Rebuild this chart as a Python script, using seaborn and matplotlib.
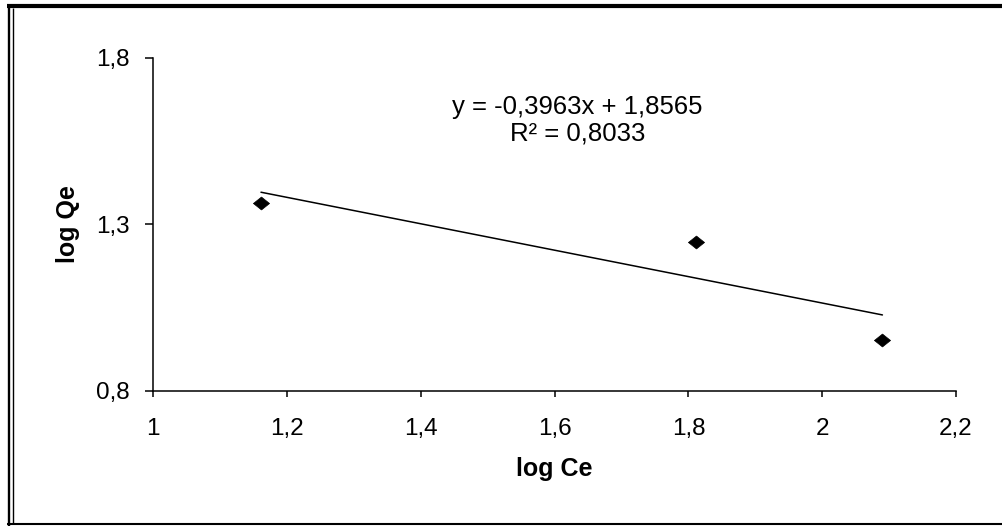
import matplotlib
matplotlib.use("Agg")
import matplotlib.pyplot as plt
from matplotlib.lines import Line2D
from matplotlib.ticker import FixedLocator, FixedFormatter
import numpy as np
import pandas as pd
import seaborn as sns

# Freundlich isotherm: log Qe against log Ce
log_ce = [1.161, 1.811, 2.090]
log_qe = [1.364, 1.246, 0.953]

# Linear trend line as reported on the chart
slope = -0.3963
intercept = 1.8565
r_squared = 0.8033

x_ticks = [1.0, 1.2, 1.4, 1.6, 1.8, 2.0, 2.2]
x_tick_labels = ["1", "1,2", "1,4", "1,6", "1,8", "2", "2,2"]
y_ticks = [0.8, 1.3, 1.8]
y_tick_labels = ["0,8", "1,3", "1,8"]

sns.set_theme(style="white")
plt.rcParams["font.family"] = ["Liberation Sans", "DejaVu Sans"]

W, H = 1003, 527
fig = plt.figure(figsize=(W / 100, H / 100), dpi=100)
fig.patch.set_facecolor("white")

left, right, top, bottom = 153.3, 956.0, 57.7, 391.0
ax = fig.add_axes([left / W, 1 - bottom / H, (right - left) / W, (bottom - top) / H])
ax.set_facecolor("white")

points = pd.DataFrame({"log Ce": log_ce, "log Qe": log_qe})
trend_x = np.array([min(log_ce), max(log_ce)])
trend = pd.DataFrame({"log Ce": trend_x, "log Qe": slope * trend_x + intercept})

sns.lineplot(data=trend, x="log Ce", y="log Qe", color="black", linewidth=1.1, ax=ax)

diamond = [(-1.0, 0.0), (0.0, 0.8), (1.0, 0.0), (0.0, -0.8), (-1.0, 0.0)]
sns.scatterplot(data=points, x="log Ce", y="log Qe", marker=diamond, s=135,
                color="black", edgecolor="black", linewidth=0.5, ax=ax, zorder=3)

ax.set_xlim(1.0, 2.2)
ax.set_ylim(0.8, 1.8)
ax.xaxis.set_major_locator(FixedLocator(x_ticks))
ax.xaxis.set_major_formatter(FixedFormatter(x_tick_labels))
ax.yaxis.set_major_locator(FixedLocator(y_ticks))
ax.yaxis.set_major_formatter(FixedFormatter(y_tick_labels))

for side in ("top", "right"):
    ax.spines[side].set_visible(False)
for side in ("left", "bottom"):
    ax.spines[side].set_color("black")
    ax.spines[side].set_linewidth(1.1)

ax.tick_params(axis="x", direction="out", length=4.3, width=1.1, color="black",
               labelsize=17.5, labelcolor="black", pad=15, bottom=True)
ax.tick_params(axis="y", direction="out", length=5.8, width=1.1, color="black",
               labelsize=17.5, labelcolor="black", pad=11, left=True)
ax.grid(False)

ax.set_xlabel("log Ce", fontsize=18, fontweight="bold", color="black")
ax.set_ylabel("log Qe", fontsize=18, fontweight="bold", color="black")
ax.xaxis.label.set_verticalalignment("center")
ax.yaxis.label.set_verticalalignment("center")
ax.xaxis.set_label_coords(0.5, (bottom - 469) / (bottom - top))
ax.yaxis.set_label_coords((67.5 - left) / (right - left), 0.5)

eq_x = (577.5 - left) / (right - left)
ax.text(eq_x, (bottom - 107) / (bottom - top),
        f"y = {slope:.4f}x + {intercept:.4f}".replace(".", ","),
        transform=ax.transAxes, ha="center", va="center", fontsize=18.5, color="black")
ax.text(eq_x, (bottom - 133) / (bottom - top),
        f"R² = {r_squared:.4f}".replace(".", ","),
        transform=ax.transAxes, ha="center", va="center", fontsize=18.5, color="black")

# Outer frame: heavy top rule, double rule on the left, thin rule at the bottom
def px_line(x0, y0, x1, y1, lw):
    fig.add_artist(Line2D([x0 / W, x1 / W], [1 - y0 / H, 1 - y1 / H],
                          transform=fig.transFigure, color="black",
                          linewidth=lw, solid_capstyle="butt"))

px_line(7.5, 6.0, W, 6.0, 3.0)
px_line(8.8, 4.0, 8.8, 525.5, 1.7)
px_line(12.7, 8.0, 12.7, 523.0, 1.0)
px_line(7.5, 524.0, W, 524.0, 1.5)

fig.savefig("out.png", dpi=100, facecolor="white")
